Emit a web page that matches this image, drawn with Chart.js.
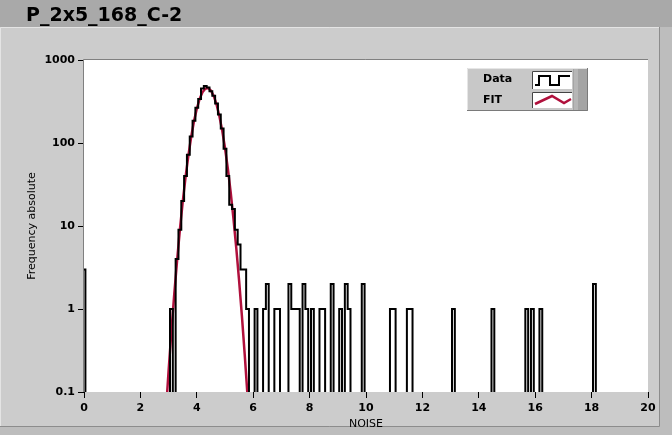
<!DOCTYPE html>
<html lang="en">
<head>
  <meta charset="UTF-8" />
  <title>P_2x5_168_C-2</title>
  <script src="https://cdn.jsdelivr.net/npm/chart.js"></script>
  <style>
    html, body {
      margin: 0;
      padding: 0;
      background: #a9a9a9;
    }
    #noiseChart {
      display: block;
      width: 672px;
      height: 435px;
    }
  </style>
</head>
<body>
  <canvas id="noiseChart" width="672" height="435"></canvas>

  <script>
    const chartTitle = 'P_2x5_168_C-2';

    // histogram bins (bin centre, width 0.1) that have a non-zero count
    const binCenters = [0.0, 3.1, 3.3, 3.4, 3.5, 3.6, 3.7, 3.8, 3.9, 4.0, 4.1, 4.2, 4.3, 4.4, 4.5,
      4.6, 4.7, 4.8, 4.9, 5.0, 5.1, 5.2, 5.3, 5.4, 5.5, 5.6, 5.7, 5.8,
      6.1, 6.4, 6.5, 6.8, 6.9, 7.3, 7.4, 7.5, 7.6, 7.8, 7.9, 8.1, 8.4, 8.5, 8.8,
      9.1, 9.3, 9.4, 9.9, 10.9, 11.0, 11.5, 11.6, 13.1, 14.5, 15.7, 15.9, 16.2, 18.1];
    const binCounts = [3, 1, 4, 9, 20, 40, 72, 120, 185, 265, 340, 455, 485, 465, 420,
      370, 300, 220, 150, 85, 40, 18, 16, 9, 6, 3, 3, 1,
      1, 1, 2, 1, 1, 2, 1, 1, 1, 2, 1, 1, 1, 1, 2,
      1, 2, 1, 2, 1, 1, 1, 1, 1, 1, 1, 1, 1, 2];

    // gaussian fit
    const fitX = [2.8, 2.9, 3.0, 3.1, 3.2, 3.3, 3.4, 3.5, 3.6, 3.7, 3.8, 3.9, 4.0, 4.1, 4.2, 4.3, 4.4,
      4.5, 4.6, 4.7, 4.8, 4.9, 5.0, 5.1, 5.2, 5.3, 5.4, 5.5, 5.6, 5.7, 5.8, 5.9, 6.0];
    const fitY = [0.015, 0.055, 0.18, 0.54, 1.5, 3.8, 9.0, 19.4, 38.5, 70, 118, 183, 259, 339, 408, 451, 458,
      429, 369, 292, 212, 142, 87, 49.5, 25.8, 12.3, 5.4, 2.2, 0.82, 0.28, 0.089, 0.026, 0.0068];

    const xTicks = [0, 2, 4, 6, 8, 10, 12, 14, 16, 18, 20];
    const yTicks = [0.1, 1, 10, 100, 1000];

    const legendItems = ['Data', 'FIT'];

    const BIN_WIDTH = 0.1;
    const EMPTY = 0.01; // empty bins fall below the log axis

    const histPoints = [];
    const nBins = Math.round((xTicks[xTicks.length - 1] - xTicks[0]) / BIN_WIDTH);
    for (let k = 0; k <= nBins; k++) {
      const i = binCenters.findIndex(c => Math.round(c / BIN_WIDTH) === k);
      histPoints.push({ x: k * BIN_WIDTH, y: i >= 0 ? binCounts[i] : EMPTY });
    }
    const fitPoints = fitX.map((x, i) => ({ x: x, y: fitY[i] }));

    const tickFont = { family: 'DejaVu Sans', size: 11, weight: 'bold' };
    const titleFont = { family: 'DejaVu Sans', size: 11 };

    const panelPlugin = {
      id: 'panel',
      beforeDraw(chart) {
        const ctx = chart.ctx;
        const a = chart.chartArea;
        ctx.save();
        // outer + title band
        ctx.fillStyle = '#a9a9a9';
        ctx.fillRect(0, 0, 672, 435);
        ctx.fillStyle = '#bdbdbd';
        ctx.fillRect(0, 27, 672, 408);
        // raised panel
        ctx.fillStyle = '#cccccc';
        ctx.fillRect(0, 27, 659, 399);
        ctx.strokeStyle = '#e4e4e4';
        ctx.beginPath();
        ctx.moveTo(0.5, 426); ctx.lineTo(0.5, 27.5); ctx.lineTo(659, 27.5);
        ctx.stroke();
        ctx.strokeStyle = '#8c8c8c';
        ctx.beginPath();
        ctx.moveTo(659.5, 27); ctx.lineTo(659.5, 426.5); ctx.lineTo(0, 426.5);
        ctx.stroke();
        // title
        ctx.fillStyle = '#000';
        ctx.font = 'bold 19px "DejaVu Sans"';
        ctx.textBaseline = 'alphabetic';
        ctx.fillText(chartTitle, 26, 21);
        // plot background
        ctx.fillStyle = '#ffffff';
        ctx.fillRect(a.left, a.top, a.right - a.left, a.bottom - a.top);
        ctx.restore();
      },
      afterDatasetsDraw(chart) {
        const ctx = chart.ctx;
        const a = chart.chartArea;
        ctx.save();
        ctx.strokeStyle = '#808080';
        ctx.lineWidth = 1;
        ctx.beginPath();
        ctx.moveTo(a.left - 0.5, a.bottom);
        ctx.lineTo(a.left - 0.5, a.top - 0.5);
        ctx.lineTo(a.right, a.top - 0.5);
        ctx.stroke();

        // legend box
        const lx = 467, ly = 68, lw = 121, lh = 43;
        ctx.fillStyle = '#c8c8c8';
        ctx.fillRect(lx, ly, lw, lh);
        ctx.fillStyle = '#a4a4a4';
        ctx.fillRect(573, ly, 15, lh);
        ctx.fillStyle = '#b6b6b6';
        ctx.fillRect(574, ly, 4, lh);
        ctx.strokeStyle = '#e6e6e6';
        ctx.beginPath();
        ctx.moveTo(lx + 0.5, ly + lh); ctx.lineTo(lx + 0.5, ly + 0.5); ctx.lineTo(lx + lw, ly + 0.5);
        ctx.stroke();
        ctx.strokeStyle = '#7a7a7a';
        ctx.beginPath();
        ctx.moveTo(lx + lw - 0.5, ly); ctx.lineTo(lx + lw - 0.5, ly + lh - 0.5); ctx.lineTo(lx, ly + lh - 0.5);
        ctx.stroke();

        ctx.font = 'bold 11px "DejaVu Sans"';
        ctx.fillStyle = '#000';
        ctx.textBaseline = 'middle';
        ctx.fillText(legendItems[0], 483, 79);
        ctx.fillText(legendItems[1], 483, 100);

        // swatches
        [[532, 71, 40, 18], [532, 92, 40, 16]].forEach(r => {
          ctx.fillStyle = '#ffffff';
          ctx.fillRect(r[0], r[1], r[2], r[3]);
          ctx.strokeStyle = '#444';
          ctx.beginPath();
          ctx.moveTo(r[0] + 0.5, r[1] + r[3]); ctx.lineTo(r[0] + 0.5, r[1] + 0.5); ctx.lineTo(r[0] + r[2], r[1] + 0.5);
          ctx.stroke();
        });
        ctx.lineWidth = 2;
        ctx.strokeStyle = '#000';
        ctx.beginPath();
        ctx.moveTo(535, 85); ctx.lineTo(539, 85); ctx.lineTo(539, 76); ctx.lineTo(550, 76);
        ctx.lineTo(550, 85); ctx.lineTo(559, 85); ctx.lineTo(559, 76); ctx.lineTo(570, 76);
        ctx.stroke();
        ctx.lineWidth = 2.5;
        ctx.strokeStyle = '#b0103c';
        ctx.beginPath();
        ctx.moveTo(535, 104); ctx.lineTo(552, 96); ctx.lineTo(564, 103); ctx.lineTo(571, 99);
        ctx.stroke();
        ctx.restore();
      }
    };

    new Chart(document.getElementById('noiseChart'), {
      type: 'line',
      data: {
        datasets: [
          {
            label: legendItems[0],
            data: histPoints,
            stepped: 'middle',
            borderColor: '#000000',
            borderWidth: 2,
            pointRadius: 0,
            fill: false,
            order: 0
          },
          {
            label: legendItems[1],
            data: fitPoints,
            borderColor: '#b0103c',
            borderWidth: 2.5,
            pointRadius: 0,
            tension: 0,
            fill: false,
            order: 1
          }
        ]
      },
      options: {
        responsive: false,
        animation: false,
        layout: { padding: { top: 60, right: 24, left: 0, bottom: 0 } },
        plugins: {
          legend: { display: false },
          tooltip: { enabled: false }
        },
        scales: {
          x: {
            type: 'linear',
            min: xTicks[0],
            max: xTicks[xTicks.length - 1],
            afterBuildTicks: s => { s.ticks = xTicks.map(v => ({ value: v })); },
            afterFit: s => { s.height = 43; },
            border: { display: false },
            grid: { drawOnChartArea: false, drawTicks: true, tickLength: 6, color: '#000' },
            ticks: { color: '#000', font: tickFont, padding: 4, maxRotation: 0, callback: v => String(v) },
            title: { display: true, text: 'NOISE', color: '#000', font: titleFont, padding: { top: 0, bottom: 4 } }
          },
          y: {
            type: 'logarithmic',
            min: yTicks[0],
            max: yTicks[yTicks.length - 1],
            afterBuildTicks: s => { s.ticks = yTicks.map(v => ({ value: v })); },
            afterFit: s => { s.width = 84; },
            border: { display: false },
            grid: { drawOnChartArea: false, drawTicks: true, tickLength: 6, color: '#000' },
            ticks: { color: '#000', font: tickFont, padding: 3, callback: v => String(v) },
            title: { display: true, text: 'Frequency absolute', color: '#000', font: titleFont, padding: { top: 26, bottom: 0 } }
          }
        }
      },
      plugins: [panelPlugin]
    });
  </script>
</body>
</html>
